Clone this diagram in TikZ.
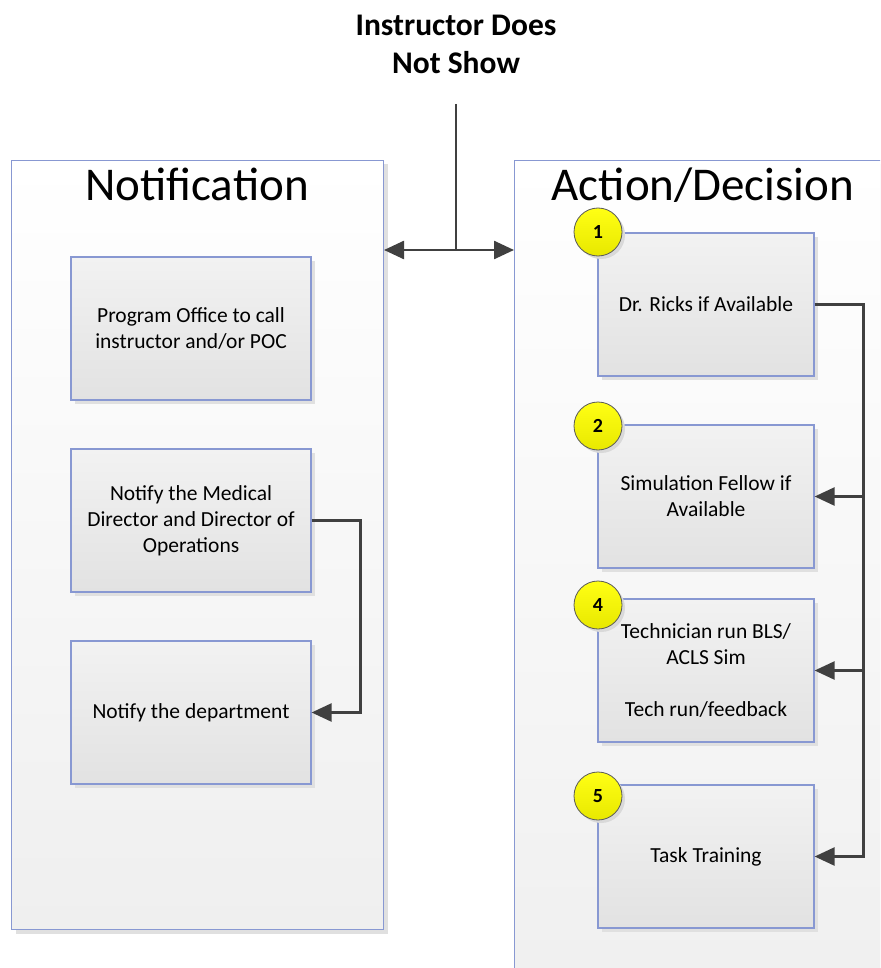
\documentclass[tikz,border=0pt]{standalone}
\usepackage{fontspec}
\setmainfont{Carlito}
\usetikzlibrary{arrows.meta,shadows}

\definecolor{edgeblue}{RGB}{136,152,210}
\definecolor{panelbot}{RGB}{239,239,239}
\definecolor{boxtop}{RGB}{242,242,242}
\definecolor{boxbot}{RGB}{226,226,226}
\definecolor{linkgray}{RGB}{64,64,64}
\definecolor{badgetop}{RGB}{255,255,20}
\definecolor{badgebot}{RGB}{232,232,0}

\begin{document}
\begin{tikzpicture}[x=1pt,y=-1pt,
  panel/.style={draw=edgeblue, line width=1pt, top color=white, bottom color=panelbot,
    drop shadow={shadow xshift=4pt, shadow yshift=-4pt, fill=black!12, opacity=1},
    anchor=north west, inner sep=0pt},
  paneltitle/.style={anchor=base, font=\fontsize{47}{56}\selectfont, inner sep=0pt},
  stepbox/.style={draw=edgeblue, line width=1.2pt, top color=boxtop, bottom color=boxbot,
    drop shadow={shadow xshift=4pt, shadow yshift=-4pt, fill=black!12, opacity=1},
    minimum height=143pt, align=center, inner sep=0pt,
    font=\fontsize{21.5}{26}\selectfont},
  leftbox/.style={stepbox, minimum width=240pt},
  rightbox/.style={stepbox, minimum width=216pt},
  badge/.style={circle, draw=black!65, line width=0.8pt, minimum size=48pt, inner sep=0pt,
    top color=badgetop, bottom color=badgebot,
    drop shadow={shadow xshift=3pt, shadow yshift=-3pt, fill=black!15, opacity=1},
    font=\bfseries\fontsize{20}{24}\selectfont},
  link/.style={draw=linkgray, line width=2.5pt},
  tip/.tip={Triangle[length=20pt,width=18pt]},
  arrow/.style={link, -tip},
  biarrow/.style={link, tip-tip}
]
\clip (0,0) rectangle (880,968);

% heading
\node[align=center, inner sep=0pt, font=\bfseries\fontsize{31.5}{38}\selectfont]
  (head) at (456,44) {Instructor Does\\Not Show};

% the two columns
\node[panel, minimum width=372pt, minimum height=769pt] (notif) at (11,160) {};
\node[panel, minimum width=380pt, minimum height=860pt] (action) at (514,160) {};
\node[paneltitle] (notiftitle) at (197,201) {Notification};
\node[paneltitle] (actiontitle) at (703,201) {Action/Decision};

% notification steps
\node[leftbox] (call) at (191,328.5) {Program Office to call\\instructor and/or POC};
\node[leftbox] (director) at (191,520.5) {Notify the Medical\\Director and Director of\\Operations};
\node[leftbox] (dept) at (191,712.5) {Notify the department};

% action steps
\node[rightbox] (ricks) at (706,304.5) {Dr. Ricks if Available};
\node[rightbox] (fellow) at (706,496.5) {Simulation Fellow if\\Available};
\node[rightbox] (tech) at (706,670.5) {Technician run BLS/\\ACLS Sim\\\mbox{}\\Tech run/feedback};
\node[rightbox] (task) at (706,856.5) {Task Training};

% numbered badges
\node[badge] (n1) at (598,232) {1};
\node[badge] (n2) at (598,426) {2};
\node[badge] (n4) at (598,605) {4};
\node[badge] (n5) at (598,796) {5};

% heading splits to both columns
\coordinate (drop) at (456,104);
\coordinate (split) at (456,250);
\draw[link] (drop) -- (split);
\draw[biarrow] (split -| notif.east) -- (split -| action.west);

% notification chain
\draw[arrow] (director.east) -- ++(49,0) |- (dept.east);

% action chain
\draw[arrow] (ricks.east) -- ++(49,0) coordinate (rail) |- (task.east);
\draw[arrow] (rail |- fellow.east) -- (fellow.east);
\draw[arrow] (rail |- tech.east) -- (tech.east);
\end{tikzpicture}
\end{document}
